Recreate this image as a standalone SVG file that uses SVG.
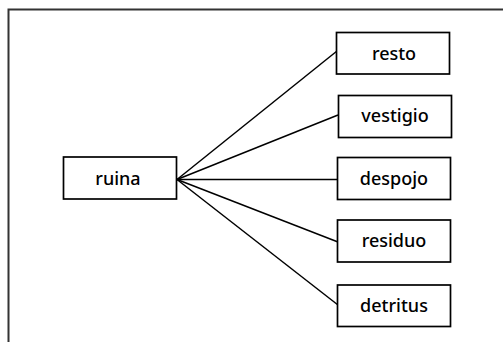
<svg xmlns="http://www.w3.org/2000/svg" width="503" height="342" viewBox="0 0 503 342">
<style>
.box{fill:#fff;stroke:#000;stroke-width:1.7}
.lbl{font-family:"Noto Sans","DejaVu Sans",sans-serif;font-size:18px;font-weight:500;fill:#000;text-anchor:middle}
.edge{stroke:#000;stroke-width:1.5;fill:none}
</style>
<rect x="0" y="0" width="503" height="342" fill="#fff"/>
<rect x="8.5" y="9.5" width="600" height="400" fill="none" stroke="#333" stroke-width="2"/>
<g id="connectors">
<line class="edge" x1="177" y1="179.5" x2="337" y2="51"/>
<line class="edge" x1="177" y1="179.5" x2="338" y2="115"/>
<line class="edge" x1="177" y1="179.5" x2="338" y2="179.5"/>
<line class="edge" x1="177" y1="179.5" x2="338" y2="242"/>
<line class="edge" x1="177" y1="179.5" x2="338" y2="305"/>
</g>
<g id="ruina"><rect class="box" x="63.5" y="157" width="113" height="42"/><text class="lbl" x="118" y="184.5">ruina</text></g>
<g id="resto"><rect class="box" x="336.5" y="32.5" width="113" height="41.5"/><text class="lbl" x="394" y="59.5">resto</text></g>
<g id="vestigio"><rect class="box" x="338.5" y="95.5" width="113" height="42"/><text class="lbl" x="395" y="122">vestigio</text></g>
<g id="despojo"><rect class="box" x="337.5" y="157.5" width="113" height="42"/><text class="lbl" x="394" y="184.5">despojo</text></g>
<g id="residuo"><rect class="box" x="337.5" y="220" width="113" height="42"/><text class="lbl" x="394" y="247">residuo</text></g>
<g id="detritus"><rect class="box" x="337.5" y="285" width="113" height="41.5"/><text class="lbl" x="394" y="311.5">detritus</text></g>
</svg>
